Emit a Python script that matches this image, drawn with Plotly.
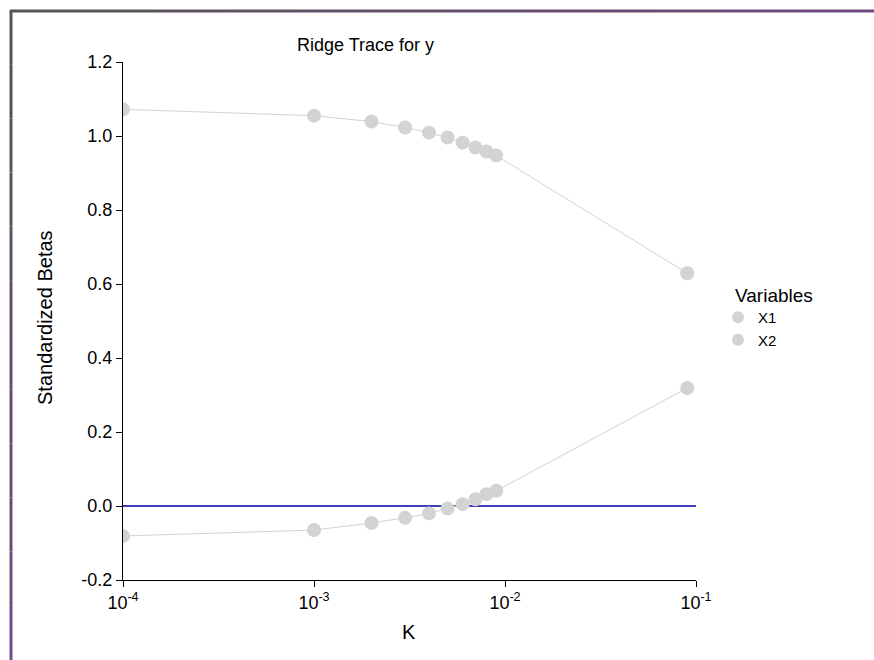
import plotly.graph_objects as go

k_values = [0.0001, 0.001, 0.002, 0.003, 0.004, 0.005, 0.006, 0.007, 0.008, 0.009, 0.09]
x1_betas = [1.072, 1.055, 1.039, 1.023, 1.009, 0.996, 0.982, 0.969, 0.958, 0.947, 0.629]
x2_betas = [-0.081, -0.065, -0.046, -0.032, -0.020, -0.007, 0.005, 0.018, 0.032, 0.041, 0.319]
zero_line_x = [0.0001, 0.1]
zero_line_y = [0.0, 0.0]
x_tickvals = [0.0001, 0.001, 0.01, 0.1]
x_ticktext = ["10<sup>-4</sup>", "10<sup>-3</sup>", "10<sup>-2</sup>", "10<sup>-1</sup>"]
y_tickvals = [-0.2, 0.0, 0.2, 0.4, 0.6, 0.8, 1.0, 1.2]
y_ticktext = ["-0.2", "0.0", "0.2", "0.4", "0.6", "0.8", "1.0", "1.2"]

FONT = "Liberation Sans, Arial, sans-serif"
grey = "#d3d3d3"

fig = go.Figure()
fig.add_trace(go.Scatter(x=zero_line_x, y=zero_line_y, mode="lines",
                         line=dict(color="rgb(0,0,160)", width=1.5),
                         showlegend=False, hoverinfo="skip"))
for name, vals in [("X1", x1_betas), ("X2", x2_betas)]:
    fig.add_trace(go.Scatter(x=k_values, y=vals, mode="lines",
                             line=dict(color=grey, width=1),
                             showlegend=False, hoverinfo="skip"))
    fig.add_trace(go.Scatter(x=k_values, y=vals, mode="markers", name=name,
                             marker=dict(color=grey, size=14)))

L, R, T, B = 123, 178, 62, 80
W, H = 874, 660
pw, ph = W - L - R, H - T - B

def px(x):
    return (x - L) / pw

def py(y):
    return (H - B - y) / ph

# frame border (gradient grey -> purple)
shapes = []
n = 12
c0 = (85, 85, 85)
c1 = (115, 75, 130)
for i in range(n):
    t = (i + 0.5) / n
    col = "rgb(%d,%d,%d)" % tuple(int(c0[j] + (c1[j] - c0[j]) * t) for j in range(3))
    xa = 10 + (W - 10) * i / n
    xb = 10 + (W - 10) * (i + 1) / n
    shapes.append(dict(type="line", xref="paper", yref="paper",
                       x0=px(xa), x1=px(xb), y0=py(11), y1=py(11),
                       line=dict(color=col, width=3)))
    ya = 10 + (H - 10) * i / n
    yb = 10 + (H - 10) * (i + 1) / n
    shapes.append(dict(type="line", xref="paper", yref="paper",
                       x0=px(11), x1=px(11), y0=py(ya), y1=py(yb),
                       line=dict(color=col, width=3)))

fig.update_layout(
    width=W, height=H,
    margin=dict(l=L, r=R, t=T, b=B),
    paper_bgcolor="white", plot_bgcolor="white",
    font=dict(family=FONT, size=18, color="black"),
    showlegend=True,
    legend=dict(x=px(718), y=py(301), xanchor="left", yanchor="top",
                font=dict(size=15), itemsizing="constant", tracegroupgap=0,
                itemwidth=30),
    shapes=shapes,
    annotations=[
        dict(text="Ridge Trace for y", xref="paper", yref="paper",
             x=px(365), y=py(45), xanchor="center", yanchor="middle",
             showarrow=False, font=dict(size=18)),
        dict(text="Standardized Betas", xref="paper", yref="paper",
             x=px(45), y=py(318), xanchor="center", yanchor="middle",
             textangle=-90, showarrow=False, font=dict(size=20)),
        dict(text="K", xref="paper", yref="paper",
             x=px(409), y=py(632), xanchor="center", yanchor="middle",
             showarrow=False, font=dict(size=20)),
        dict(text="Variables", xref="paper", yref="paper",
             x=px(733), y=py(295), xanchor="left", yanchor="middle",
             showarrow=False, font=dict(size=19)),
    ],
)
fig.update_xaxes(type="log", range=[-4, -1], tickvals=x_tickvals, ticktext=x_ticktext,
                 showline=True, linecolor="black", linewidth=1, ticks="outside",
                 ticklen=6, tickcolor="black", showgrid=False, zeroline=False,
                 tickfont=dict(size=18))
fig.update_yaxes(range=[-0.2, 1.2], tickvals=y_tickvals, ticktext=y_ticktext,
                 showline=True, linecolor="black", linewidth=1, ticks="outside",
                 ticklen=6, tickcolor="black", showgrid=False, zeroline=False,
                 tickfont=dict(size=18))

fig.write_html("out.html")
